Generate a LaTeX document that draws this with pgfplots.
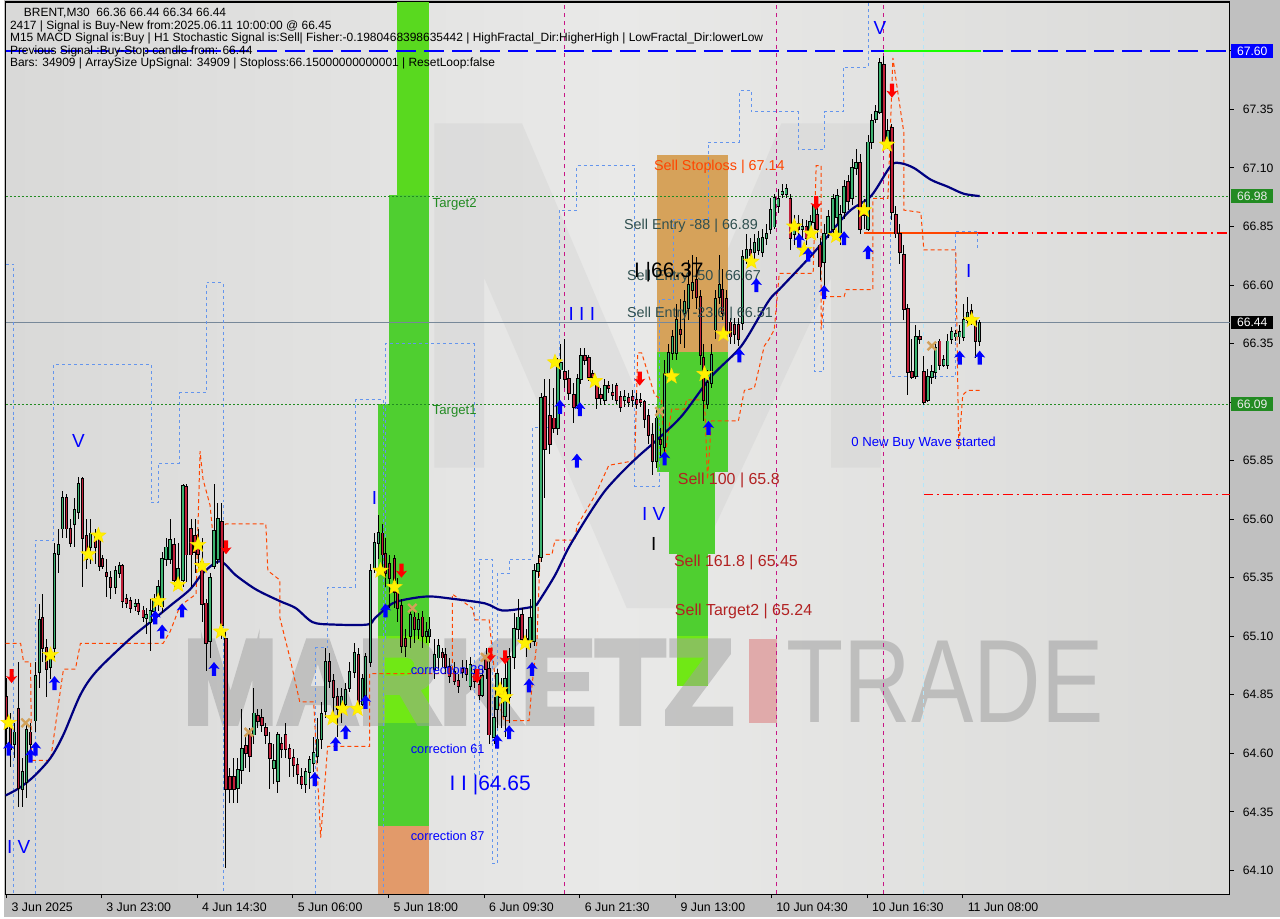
\documentclass[border=0pt]{standalone}
\usepackage{fontspec}
\setmainfont{Liberation Sans}
\newfontfamily\wmfont{Liberation Sans}[FakeBold=5]
\usepackage{pgfplots}
\usepackage{pgfplotstable}
\pgfplotsset{compat=1.18}
\definecolor{outer}{HTML}{C0C0C0}
\definecolor{bgl}{HTML}{D9D9D8}
\definecolor{bgm}{HTML}{E9E9E8}
\definecolor{bgr}{HTML}{DADAD8}
\definecolor{gtop}{HTML}{59D91F}
\definecolor{gmain}{HTML}{4FCF30}
\definecolor{glime}{HTML}{70E815}
\definecolor{orb}{HTML}{E29A6A}
\definecolor{tanr}{HTML}{D6A25A}
\definecolor{pinkr}{HTML}{E0AAAA}
\definecolor{bull}{HTML}{3CB371}
\definecolor{bear}{HTML}{C0203A}
\definecolor{navy}{HTML}{000080}
\definecolor{fgreen}{HTML}{228B22}
\definecolor{lgray}{HTML}{778899}
\definecolor{mviolet}{HTML}{C71585}
\definecolor{sellred}{HTML}{B22222}
\definecolor{slate}{HTML}{2F4F4F}
\definecolor{xtan}{HTML}{D2A05A}
\definecolor{wm}{HTML}{A0A0A0}
\definecolor{mlogo}{HTML}{C8C8C8}
\definecolor{cfblue}{HTML}{6495ED}
\definecolor{ored}{HTML}{FF4500}
\definecolor{pred}{HTML}{FF0000}
\newcommand{\fs}[1]{\fontsize{#1}{#1}\selectfont}
\pgfdeclareplotmark{fstar}{%
  \pgfpathmoveto{\pgfpointpolar{90}{\pgfplotmarksize}}%
  \pgfpathlineto{\pgfpointpolar{126}{0.42\pgfplotmarksize}}%
  \pgfpathlineto{\pgfpointpolar{162}{\pgfplotmarksize}}%
  \pgfpathlineto{\pgfpointpolar{198}{0.42\pgfplotmarksize}}%
  \pgfpathlineto{\pgfpointpolar{234}{\pgfplotmarksize}}%
  \pgfpathlineto{\pgfpointpolar{270}{0.42\pgfplotmarksize}}%
  \pgfpathlineto{\pgfpointpolar{306}{\pgfplotmarksize}}%
  \pgfpathlineto{\pgfpointpolar{342}{0.42\pgfplotmarksize}}%
  \pgfpathlineto{\pgfpointpolar{18}{\pgfplotmarksize}}%
  \pgfpathlineto{\pgfpointpolar{54}{0.42\pgfplotmarksize}}%
  \pgfpathclose\pgfusepathqfillstroke}
\pgfdeclareplotmark{uarr}{%
  \pgfpathmoveto{\pgfqpoint{0pt}{\pgfplotmarksize}}%
  \pgfpathlineto{\pgfqpoint{0.8\pgfplotmarksize}{0pt}}%
  \pgfpathlineto{\pgfqpoint{0.3\pgfplotmarksize}{0.15\pgfplotmarksize}}%
  \pgfpathlineto{\pgfqpoint{0.3\pgfplotmarksize}{-\pgfplotmarksize}}%
  \pgfpathlineto{\pgfqpoint{-0.3\pgfplotmarksize}{-\pgfplotmarksize}}%
  \pgfpathlineto{\pgfqpoint{-0.3\pgfplotmarksize}{0.15\pgfplotmarksize}}%
  \pgfpathlineto{\pgfqpoint{-0.8\pgfplotmarksize}{0pt}}%
  \pgfpathclose\pgfusepathqfill}
\pgfdeclareplotmark{darr}{%
  \pgfpathmoveto{\pgfqpoint{0pt}{-\pgfplotmarksize}}%
  \pgfpathlineto{\pgfqpoint{0.8\pgfplotmarksize}{0pt}}%
  \pgfpathlineto{\pgfqpoint{0.3\pgfplotmarksize}{-0.15\pgfplotmarksize}}%
  \pgfpathlineto{\pgfqpoint{0.3\pgfplotmarksize}{\pgfplotmarksize}}%
  \pgfpathlineto{\pgfqpoint{-0.3\pgfplotmarksize}{\pgfplotmarksize}}%
  \pgfpathlineto{\pgfqpoint{-0.3\pgfplotmarksize}{-0.15\pgfplotmarksize}}%
  \pgfpathlineto{\pgfqpoint{-0.8\pgfplotmarksize}{0pt}}%
  \pgfpathclose\pgfusepathqfill}

\pgfplotstableread{
x o h l c
3 64.84 64.92 64.64 64.71
7 64.71 64.77 64.54 64.62
11 64.64 64.73 64.58 64.69
15 64.79 64.99 64.37 64.45
19 64.45 64.58 64.37 64.52
23 64.48 64.72 64.41 64.70
27 64.69 64.73 64.58 64.64
32 64.74 64.99 64.69 64.93
36 64.95 65.24 64.88 65.17
39 65.18 65.28 64.99 65.05
43 65.05 65.09 64.84 64.96
47 64.97 65.05 64.92 65.01
51 65.05 65.50 65.01 65.45
55 65.45 65.56 65.37 65.49
59 65.56 65.72 65.52 65.69
63 65.69 65.71 65.52 65.56
67 65.56 65.60 65.48 65.50
71 65.58 65.69 65.48 65.64
75 65.63 65.78 65.60 65.75
79 65.77 65.78 65.31 65.52
83 65.53 65.60 65.39 65.43
87 65.48 65.60 65.41 65.54
92 65.54 65.56 65.41 65.48
96 65.52 65.54 65.38 65.40
99 65.43 65.45 65.39 65.40
103 65.37 65.43 65.27 65.36
107 65.35 65.38 65.26 65.31
112 65.31 65.40 65.28 65.38
116 65.37 65.42 65.35 65.40
119 65.40 65.41 65.22 65.25
123 65.26 65.28 65.22 65.24
127 65.25 65.27 65.20 65.22
132 65.23 65.26 65.21 65.24
135 65.24 65.26 65.19 65.21
140 65.21 65.23 65.16 65.18
143 65.18 65.22 65.11 65.19
147 65.16 65.26 65.04 65.21
151 65.21 65.28 65.18 65.26
155 65.24 65.34 65.21 65.31
159 65.23 65.46 65.20 65.43
163 65.43 65.52 65.40 65.48
167 65.43 65.60 65.41 65.51
171 65.49 65.52 65.31 65.34
175 65.34 65.50 65.31 65.39
180 65.34 65.75 65.31 65.74
183 65.74 65.75 65.33 65.45
188 65.56 65.60 65.31 65.45
192 65.53 65.60 65.37 65.46
195 65.49 65.56 65.39 65.45
199 65.42 65.52 65.16 65.24
203 65.24 65.26 64.95 65.07
207 65.08 65.37 65.01 65.35
211 65.40 65.75 65.39 65.55
215 65.43 65.67 65.41 65.60
219 65.59 65.67 65.09 65.15
223 65.09 65.13 64.11 64.45
227 64.50 64.54 64.39 64.45
231 64.50 64.58 64.39 64.45
235 64.45 64.58 64.39 64.53
239 64.53 64.79 64.47 64.62
243 64.63 64.67 64.54 64.60
247 64.68 64.71 64.52 64.59
251 64.68 64.88 64.64 64.77
255 64.76 64.79 64.71 64.74
259 64.75 64.79 64.69 64.72
263 64.71 64.73 64.64 64.68
267 64.64 64.69 64.45 64.58
271 64.54 64.64 64.47 64.57
275 64.48 64.69 64.43 64.68
279 64.64 64.67 64.58 64.62
283 64.68 64.73 64.58 64.62
287 64.62 64.64 64.50 64.58
291 64.58 64.62 64.50 64.55
295 64.55 64.58 64.47 64.51
299 64.50 64.54 64.45 64.47
303 64.47 64.54 64.43 64.52
307 64.52 64.59 64.45 64.57
311 64.56 64.67 64.52 64.60
315 64.59 64.75 64.56 64.66
319 64.66 64.82 64.62 64.77
323 64.78 65.05 64.75 64.99
327 64.99 65.03 64.88 64.91
331 64.91 64.94 64.75 64.84
335 64.84 64.88 64.67 64.79
339 64.79 64.88 64.73 64.84
343 64.81 64.90 64.79 64.87
347 64.88 64.99 64.86 64.95
352 64.95 65.07 64.92 65.03
356 65.02 65.05 64.79 64.80
360 64.81 64.94 64.79 64.92
363 64.81 65.03 64.79 65.01
368 64.99 65.41 64.97 65.38
372 65.39 65.54 65.37 65.50
376 65.50 65.62 65.43 65.54
380 65.54 65.58 65.37 65.45
383 65.45 65.52 65.31 65.37
387 65.41 65.45 65.22 65.35
392 65.43 65.45 65.22 65.29
395 65.29 65.35 65.16 65.22
399 65.23 65.26 65.03 65.06
403 65.09 65.13 65.01 65.06
408 65.10 65.22 65.05 65.19
412 65.18 65.21 65.07 65.13
416 65.13 65.20 65.09 65.17
420 65.18 65.21 65.05 65.10
424 65.10 65.16 65.07 65.12
427 65.10 65.18 65.07 65.13
432 64.96 65.09 64.92 65.02
436 65.01 65.09 64.96 65.06
440 65.03 65.05 64.97 65.01
443 65.02 65.05 64.94 64.97
447 64.97 65.01 64.90 64.93
452 64.95 64.99 64.89 64.91
456 64.91 64.94 64.86 64.89
460 64.96 65.00 64.92 64.95
464 64.96 65.00 64.91 64.94
468 64.89 65.01 64.87 64.98
472 64.94 64.96 64.88 64.91
477 64.89 64.92 64.83 64.85
480 64.85 64.96 64.84 64.93
484 65.01 65.05 64.92 64.96
487 64.96 65.01 64.64 64.68
492 64.67 64.84 64.64 64.75
495 64.79 64.96 64.71 64.94
499 64.88 64.92 64.71 64.84
503 64.76 65.01 64.67 64.92
507 64.84 65.05 64.73 65.01
512 65.01 65.20 64.96 65.13
516 65.13 65.26 65.09 65.18
520 65.19 65.22 65.05 65.09
524 65.09 65.13 65.01 65.07
528 65.08 65.26 65.05 65.18
532 65.08 65.41 65.06 65.38
536 65.38 65.45 65.35 65.41
539 65.44 66.14 65.42 66.12
543 66.12 66.20 65.69 65.90
548 66.04 66.20 65.88 65.92
552 66.03 66.16 65.97 65.99
556 65.99 66.29 65.96 66.26
559 66.24 66.35 66.20 66.27
563 66.23 66.37 66.16 66.20
567 66.20 66.24 66.11 66.14
572 66.13 66.18 66.01 66.08
576 66.09 66.22 66.07 66.20
579 66.20 66.33 66.18 66.30
583 66.30 66.33 66.26 66.28
587 66.29 66.30 66.19 66.21
591 66.22 66.24 66.19 66.21
595 66.17 66.20 66.07 66.12
599 66.13 66.16 66.09 66.12
603 66.11 66.20 66.09 66.17
607 66.17 66.19 66.14 66.16
611 66.14 66.18 66.11 66.13
615 66.17 66.18 66.09 66.11
619 66.12 66.15 66.06 66.08
623 66.11 66.15 66.08 66.12
627 66.12 66.14 66.08 66.10
631 66.12 66.15 66.08 66.11
635 66.11 66.14 66.07 66.09
639 66.11 66.14 66.08 66.10
643 66.10 66.11 65.99 66.03
647 66.04 66.07 65.92 65.96
651 65.96 66.01 65.79 65.85
655 65.85 66.07 65.82 66.03
659 65.94 65.99 65.87 65.92
663 65.91 66.28 65.88 66.22
667 66.22 66.35 66.20 66.31
671 66.31 66.41 66.28 66.38
675 66.31 66.52 66.28 66.45
679 66.41 66.54 66.35 66.39
683 66.48 66.58 66.33 66.53
687 66.50 66.71 66.45 66.60
691 66.58 66.73 66.54 66.61
695 66.62 66.72 66.50 66.55
699 66.55 66.58 66.26 66.30
702 66.29 66.35 66.02 66.11
706 66.09 66.24 66.07 66.18
710 66.18 66.35 66.16 66.30
714 66.41 66.58 66.37 66.54
718 66.55 66.73 66.52 66.60
721 66.58 66.67 66.45 66.48
725 66.54 66.58 66.37 66.40
729 66.44 66.46 66.35 66.38
733 66.43 66.46 66.35 66.39
737 66.43 66.46 66.34 66.37
741 66.44 66.75 66.41 66.72
745 66.71 66.82 66.69 66.75
749 66.75 66.80 66.70 66.73
753 66.74 66.82 66.71 66.78
757 66.75 66.83 66.73 66.80
761 66.74 66.84 66.72 66.80
765 66.80 66.86 66.77 66.82
769 66.84 66.97 66.82 66.92
773 66.85 66.99 66.84 66.97
777 66.94 67.01 66.91 66.97
781 66.99 67.03 66.97 67.00
785 66.99 67.03 66.97 67.01
789 66.97 66.99 66.75 66.80
793 66.82 66.90 66.77 66.87
797 66.86 66.90 66.80 66.84
801 66.84 66.88 66.80 66.85
805 66.85 66.88 66.77 66.80
809 66.83 66.90 66.80 66.87
813 66.87 66.97 66.84 66.94
816 66.90 66.94 66.80 66.84
819 66.77 66.80 66.62 66.68
823 66.70 66.86 66.58 66.82
827 66.82 66.92 66.80 66.89
832 66.84 66.99 66.80 66.97
836 66.89 67.01 66.86 66.98
839 66.82 66.94 66.77 66.90
843 66.91 67.05 66.88 67.02
847 67.04 67.07 66.92 66.96
851 66.97 67.14 66.94 67.10
855 67.10 67.18 67.07 67.12
859 67.12 67.16 66.82 66.84
863 66.92 66.97 66.84 66.90
867 66.84 67.24 66.83 67.21
871 67.21 67.33 67.18 67.30
875 67.31 67.37 67.29 67.34
879 67.34 67.57 67.33 67.55
883 67.54 67.58 67.18 67.21
887 67.21 67.31 67.18 67.26
891 67.27 67.29 66.88 66.91
895 66.90 66.94 66.80 66.82
899 66.82 66.86 66.69 66.74
903 66.73 66.77 66.45 66.50
907 66.50 66.52 66.13 66.23
911 66.23 66.37 66.20 66.21
915 66.21 66.43 66.20 66.38
919 66.38 66.41 66.35 66.37
923 66.23 66.30 66.09 66.10
927 66.11 66.24 66.10 66.21
931 66.21 66.26 66.18 66.23
935 66.23 66.35 66.20 66.33
939 66.36 66.37 66.24 66.26
943 66.26 66.30 66.25 66.28
947 66.26 66.39 66.24 66.36
951 66.37 66.42 66.35 66.40
955 66.38 66.41 66.36 66.39
959 66.38 66.43 66.35 66.40
963 66.38 66.52 66.36 66.45
967 66.45 66.55 66.43 66.48
971 66.49 66.52 66.43 66.45
975 66.45 66.46 66.29 66.36
979 66.36 66.45 66.34 66.44
}\candles

\begin{document}
\begin{tikzpicture}
\fill[outer] (0pt,0pt) rectangle (640pt,460pt);
\begin{axis}[at={(1pt,459pt)}, anchor=north west,
  width=614pt, height=447.5pt, scale only axis,
  xmin=2, xmax=1230, ymin=63.998, ymax=67.809,
  clip=false,
  axis background/.style={left color=bgl, right color=bgr, middle color=bgm},
  axis line style={black, line width=0.6pt},
  tick align=outside, major tick length=2pt,
  tick style={black, line width=0.5pt},
  xtick pos=bottom, ytick pos=right, yticklabel pos=right,
  xtick={3,98,194,290,386,482,578,674,770,866,962},
  xticklabels={3 Jun 2025,3 Jun 23:00,4 Jun 14:30,5 Jun 06:00,5 Jun 18:00,6 Jun 09:30,6 Jun 21:30,9 Jun 13:00,10 Jun 04:30,10 Jun 16:30,11 Jun 08:00},
  xticklabel style={anchor=north west, xshift=-1pt, yshift=1pt, font=\fs{6.2}},
  ytick={64.10,64.35,64.60,64.85,65.10,65.35,65.60,65.85,66.10,66.35,66.60,66.85,67.10,67.35,67.60},
  yticklabels={64.10,64.35,64.60,64.85,65.10,65.35,65.60,65.85,,66.35,66.60,66.85,67.10,67.35,},
  yticklabel style={anchor=west, xshift=1pt, font=\fs{6.1}},
]
% faint logo
\addplot[fill=mlogo, draw=none, fill opacity=0.28] coordinates {(432,65.82) (432,67.29) (520,67.29) (650,65.99) (780,67.29) (880,67.29) (880,65.82) (830,65.82) (830,66.63) (675,65.22) (625,65.22) (482,66.63) (482,65.82)} -- cycle;
% rectangles
\addplot[fill=gtop, draw=none] coordinates {(395,67.809) (427,67.809) (427,66.983) (395,66.983)} -- cycle;
\addplot[fill=gmain, draw=none] coordinates {(387,66.983) (427,66.983) (427,66.09) (387,66.09)} -- cycle;
\addplot[fill=gmain, draw=none] coordinates {(375,66.09) (427,66.09) (427,65.10) (375,65.10)} -- cycle;
\addplot[fill=glime, draw=none] coordinates {(375,65.10) (427,65.10) (427,64.73) (375,64.73)} -- cycle;
\addplot[fill=gmain, draw=none] coordinates {(375,64.73) (427,64.73) (427,64.29) (375,64.29)} -- cycle;
\addplot[fill=orb, draw=none] coordinates {(375,64.29) (427,64.29) (427,63.998) (375,63.998)} -- cycle;
\addplot[fill=tanr, draw=none] coordinates {(655,67.157) (727,67.157) (727,66.314) (655,66.314)} -- cycle;
\addplot[fill=gmain, draw=none] coordinates {(655,66.314) (727,66.314) (727,65.80) (655,65.80)} -- cycle;
\addplot[fill=gmain, draw=none] coordinates {(667,65.80) (714,65.80) (714,65.45) (667,65.45)} -- cycle;
\addplot[fill=gmain, draw=none] coordinates {(675,65.45) (707,65.45) (707,65.10) (675,65.10)} -- cycle;
\addplot[fill=glime, draw=none] coordinates {(675,65.10) (707,65.10) (707,64.887) (675,64.887)} -- cycle;
\addplot[fill=pinkr, draw=none] coordinates {(748,65.09) (776,65.09) (776,64.73) (748,64.73)} -- cycle;
% watermark
\begin{scope}[transparency group, opacity=0.5]
\node[anchor=base west, text=wm, inner sep=0pt, xscale=0.95] at (axis cs:180,64.73) {\wmfont\fs{59.4}\bfseries MARKETZ};
\end{scope}
\node[anchor=base west, text=wm, opacity=0.55, inner sep=0pt, xscale=0.79] at (axis cs:785,64.73) {\fs{59.4}TRADE};
% horizontal lines
\addplot[fgreen, line width=0.5pt, dash pattern=on 1pt off 1pt] coordinates {(2,66.98) (1230,66.98)};
\addplot[fgreen, line width=0.5pt, dash pattern=on 1pt off 1pt] coordinates {(2,66.09) (1230,66.09)};
\addplot[lgray, line width=0.6pt] coordinates {(2,66.44) (1230,66.44)};
\addplot[blue, line width=0.7pt, dash pattern=on 10pt off 4pt] coordinates {(2,67.60) (1230,67.60)};
\addplot[green!90!yellow, line width=0.8pt] coordinates {(883,67.60) (980,67.60)};
\addplot[ored, line width=0.8pt] coordinates {(863,66.822) (977,66.822)};
\addplot[pred, line width=0.8pt, dash pattern=on 5pt off 2pt on 1pt off 2pt] coordinates {(977,66.822) (1230,66.822)};
\addplot[pred, line width=0.7pt, dash pattern=on 5pt off 2pt on 1pt off 2pt] coordinates {(922,65.705) (1230,65.705)};
% vertical lines
\addplot[mviolet, line width=0.5pt, dash pattern=on 2pt off 2pt] coordinates {(563,63.998) (563,67.809)};
\addplot[mviolet, line width=0.5pt, dash pattern=on 2pt off 2pt] coordinates {(775,63.998) (775,67.809)};
\addplot[mviolet, line width=0.5pt, dash pattern=on 2pt off 2pt] coordinates {(883,63.998) (883,67.809)};
\addplot[cyan!30!white, line width=0.5pt, dash pattern=on 2pt off 2pt] coordinates {(923,63.998) (923,67.809)};
% fractal channel lines
\addplot[cfblue, line width=0.45pt, dash pattern=on 1.5pt off 1.5pt] coordinates {(2,66.69) (10,66.69) (10,63.998)};
\addplot[cfblue, line width=0.45pt, dash pattern=on 1.5pt off 1.5pt] coordinates {(32,63.998) (32,65.51) (50,65.51) (50,66.26) (148,66.26) (148,65.67) (155,65.67) (155,65.84) (176,65.84) (176,66.14) (203,66.14) (203,66.61) (220,66.61) (220,63.998)};
\addplot[cfblue, line width=0.45pt, dash pattern=on 1.5pt off 1.5pt] coordinates {(313,63.998) (313,65.05) (325,65.05) (325,65.31) (353,65.31) (353,66.11) (381,66.11) (381,63.998)};
\addplot[cfblue, line width=0.45pt, dash pattern=on 1.5pt off 1.5pt] coordinates {(383,65.09) (383,66.35) (472,66.35) (472,64.51) (477,64.51) (477,65.43) (490,65.43) (490,64.13) (495,64.13) (495,65.37) (507,65.37) (507,65.43) (530,65.43) (530,65.99) (557,65.99) (557,66.92) (575,66.92) (575,67.11) (633,67.11) (633,65.74) (658,65.74) (658,66.54) (672,66.54) (672,66.88) (707,66.88) (707,67.21) (738,67.21) (738,67.43) (750,67.43) (750,67.34) (797,67.34) (797,67.18) (823,67.18) (823,67.34) (842,67.34) (842,67.53) (867,67.53) (867,67.809)};
\addplot[cfblue, line width=0.45pt, dash pattern=on 1.5pt off 1.5pt] coordinates {(890,67.05) (890,66.21) (955,66.21) (955,66.83) (977,66.83) (977,66.75)};
\addplot[cfblue, line width=0.45pt, dash pattern=on 1.5pt off 1.5pt] coordinates {(813,66.62) (813,66.23) (822,66.23) (822,66.54)};
% stop line
\addplot[ored, line width=0.5pt, dash pattern=on 2pt off 1.5pt] coordinates {
(2,65.07) (17,65.07) (20,64.99) (27,64.99) (28,64.57) (47,64.57) (60,64.96) (72,64.96) (77,65.07) (160,65.07) (167,65.12) (177,65.23) (193,65.28) (197,65.89) (200,65.77) (207,65.66) (210,65.53) (223,65.58) (263,65.58) (265,65.38) (277,65.34) (277,65.18) (287,65.01) (297,64.82) (311,64.82) (318,64.24) (325,64.63) (367,64.63) (367,64.94) (450,64.94) (450,65.28) (470,65.22) (473,65.17) (487,65.17) (490,65.04) (495,64.84) (502,64.74) (527,64.74) (530,64.89) (535,65.08) (538,65.45) (550,65.45) (553,65.51) (573,65.51) (575,65.57) (593,65.70) (607,65.83) (633,65.85) (636,66.31) (640,66.31) (653,66.13) (660,66.11) (663,65.86) (670,66.07) (683,66.07) (685,66.11) (703,66.11) (706,65.77) (710,66.02) (737,66.02) (743,66.15) (753,66.16) (763,66.34) (768,66.37) (773,66.41) (778,66.65) (812,66.65) (815,67.11) (820,67.11) (820,66.41) (823,66.55) (843,66.55) (845,66.58) (872,66.58) (872,66.97) (887,66.97) (892,67.57) (897,67.42) (903,67.25) (903,66.92) (920,66.91) (923,66.75) (955,66.75) (958,65.90) (962,66.13) (967,66.15) (979,66.15)};
% moving average
\addplot[navy, line width=1.1pt, smooth] coordinates {
(2,64.42) (15,64.45) (30,64.50) (47,64.58) (60,64.68) (77,64.85) (93,64.95) (127,65.09) (147,65.16) (167,65.23) (187,65.30) (200,65.37) (217,65.42) (233,65.36) (253,65.30) (277,65.25) (293,65.22) (310,65.16) (330,65.15) (365,65.15) (373,65.18) (390,65.24) (407,65.26) (427,65.27) (450,65.26) (483,65.24) (500,65.21) (523,65.22) (533,65.23) (537,65.25) (553,65.36) (567,65.48) (587,65.62) (603,65.72) (620,65.80) (637,65.87) (653,65.93) (680,66.04) (710,66.21) (740,66.34) (767,66.53) (780,66.59) (813,66.74) (847,66.91) (870,66.98) (890,67.11) (900,67.12) (913,67.10) (930,67.05) (947,67.02) (963,66.99) (979,66.98)};
% candles
\addplot[draw=none, mark=none, forget plot, error bars/.cd, y dir=both, y explicit, error mark=none,
  error bar style={draw=black, line width=0.5pt}]
  table[x=x, y expr={(\thisrow{h}+\thisrow{l})/2}, y error expr={(\thisrow{h}-\thisrow{l})/2}] {\candles};
\addplot[draw=none, mark=none, forget plot, error bars/.cd, y dir=both, y explicit, error mark=none,
  error bar style={draw=black, line width=1.7pt}]
  table[x=x, y expr={(\thisrow{o}+\thisrow{c})/2}, y error expr={abs(\thisrow{c}-\thisrow{o})/2+0.004}] {\candles};
\addplot[draw=none, mark=none, forget plot, error bars/.cd, y dir=both, y explicit, error mark=none,
  error bar style={draw=bull, line width=0.8pt}]
  table[x=x, y expr={\thisrow{c}>=\thisrow{o} ? (\thisrow{o}+\thisrow{c})/2 : nan}, y error expr={abs(\thisrow{c}-\thisrow{o})/2}] {\candles};
\addplot[draw=none, mark=none, forget plot, error bars/.cd, y dir=both, y explicit, error mark=none,
  error bar style={draw=bear, line width=0.8pt}]
  table[x=x, y expr={\thisrow{c}<\thisrow{o} ? (\thisrow{o}+\thisrow{c})/2 : nan}, y error expr={abs(\thisrow{c}-\thisrow{o})/2}] {\candles};
% markers
\addplot[only marks, mark=fstar, mark size=4pt, mark options={fill=yellow, draw=yellow!85!orange, line width=0.3pt}] coordinates {
(5,64.73) (47,65.02) (85,65.45) (95,65.53) (155,65.25) (175,65.32) (195,65.49) (199,65.40) (218,65.12) (330,64.75) (340,64.79) (355,64.79) (378,65.38) (392,65.31) (498,64.87) (503,64.84) (523,65.07) (553,66.27) (593,66.19) (670,66.21) (703,66.22) (722,66.39) (750,66.70) (793,66.85) (803,66.75) (810,66.82) (835,66.81) (863,66.92) (886,67.20) (971,66.45)};
\addplot[only marks, mark=uarr, mark size=3.5pt, mark options={fill=blue, draw=none}] coordinates {
(5,64.62) (27,64.59) (32,64.62) (51,64.90) (152,65.18) (159,65.12) (179,65.21) (211,64.96) (312,64.49) (333,64.64) (343,64.69) (363,64.82) (383,65.21) (495,64.65) (507,64.69) (527,64.89) (530,64.96) (558,66.08) (578,66.07) (575,65.85) (663,65.86) (707,65.99) (738,66.30) (755,66.60) (798,66.79) (807,66.73) (823,66.57) (843,66.80) (867,66.74) (959,66.29) (979,66.29)};
\addplot[only marks, mark=darr, mark size=3.5pt, mark options={fill=red, draw=none}] coordinates {
(8,64.93) (223,65.48) (399,65.38) (475,64.93) (488,65.02) (503,65.01) (638,66.20) (815,66.95) (891,67.43)};
\addplot[only marks, mark=x, mark size=3pt, mark options={draw=xtan, line width=1.2pt}] coordinates {
(22,64.73) (246,64.69) (410,65.22) (483,65.01) (658,66.06) (931,66.34)};
% labels
\node[blue, font=\fs{9.5}] at (axis cs:75,65.935) {V};
\node[blue, font=\fs{9.5}] at (axis cs:372,65.69) {I};
\node[blue, font=\fs{9.5}] at (axis cs:580,66.476) {I I I};
\node[blue, font=\fs{9.5}] at (axis cs:652,65.624) {I V};
\node[black, font=\fs{9.5}] at (axis cs:652,65.496) {I};
\node[blue, font=\fs{10.5}] at (axis cs:488,64.466) {I I |64.65};
\node[blue, font=\fs{9.5}] at (axis cs:879,67.70) {V};
\node[blue, font=\fs{9.5}] at (axis cs:968,66.66) {I};
\node[blue, font=\fs{9.5}] at (axis cs:15,64.20) {I V};
\node[anchor=west, ored, font=\fs{7.2}, inner sep=0pt] at (axis cs:652,67.106) {Sell Stoploss | 67.14};
\node[anchor=west, slate, font=\fs{7.2}, inner sep=0pt] at (axis cs:622,66.855) {Sell Entry -88 | 66.89};
\node[anchor=west, slate, font=\fs{7.2}, inner sep=0pt] at (axis cs:625,66.633) {Sell Entry -50 | 66.67};
\node[anchor=west, slate, font=\fs{7.2}, inner sep=0pt] at (axis cs:625,66.476) {Sell Entry -23.6 | 66.51};
\node[anchor=west, black, font=\fs{10.5}, inner sep=0pt] at (axis cs:632,66.655) {I |66.37};
\node[anchor=west, sellred, font=\fs{8}, inner sep=0pt] at (axis cs:676,65.765) {Sell 100 | 65.8};
\node[anchor=west, sellred, font=\fs{8}, inner sep=0pt] at (axis cs:672,65.415) {Sell 161.8 | 65.45};
\node[anchor=west, sellred, font=\fs{8}, inner sep=0pt] at (axis cs:673,65.207) {Sell Target2 | 65.24};
\node[anchor=west, blue, font=\fs{6.6}, inner sep=0pt] at (axis cs:850,65.926) {0 New Buy Wave started};
\node[anchor=west, fgreen, font=\fs{6.6}, inner sep=0pt] at (axis cs:430,66.944) {Target2};
\node[anchor=west, fgreen, font=\fs{6.6}, inner sep=0pt] at (axis cs:430,66.059) {Target1};
\node[anchor=west, blue, font=\fs{6.4}, inner sep=0pt] at (axis cs:408,64.956) {correction 38};
\node[anchor=west, blue, font=\fs{6.4}, inner sep=0pt] at (axis cs:408,64.619) {correction 61};
\node[anchor=west, blue, font=\fs{6.4}, inner sep=0pt] at (axis cs:408,64.249) {correction 87};
% price boxes
\node[anchor=west, fill=blue, text=white, font=\fs{6.1}, inner sep=0pt, minimum width=21pt, minimum height=7pt] at (axis cs:1231,67.60) {67.60};
\node[anchor=west, fill=fgreen, text=white!85!gray, font=\fs{6.1}, inner sep=0pt, minimum width=21pt, minimum height=7pt] at (axis cs:1231,66.98) {66.98};
\node[anchor=west, fill=black, text=white, font=\fs{6.1}, inner sep=0pt, minimum width=21pt, minimum height=7pt] at (axis cs:1231,66.44) {66.44};
\node[anchor=west, fill=fgreen, text=white!85!gray, font=\fs{6.1}, inner sep=0pt, minimum width=21pt, minimum height=7pt] at (axis cs:1231,66.09) {66.09};
% header
\node[anchor=north west, align=left, font={\fontsize{6}{6.35}\selectfont}, inner sep=0pt] at (axis cs:6,67.785) {\hspace*{7pt}BRENT,M30\ \ 66.36 66.44 66.34 66.44\\
2417 | Signal is Buy-New from:2025.06.11 10:00:00 @ 66.45\\
M15 MACD Signal is:Buy | H1 Stochastic Signal is:Sell| Fisher:-0.1980468398635442 | HighFractal\_Dir:HigherHigh | LowFractal\_Dir:lowerLow\\
Previous Signal :Buy-Stop candle from: 66.44\\
Bars: 34909 | ArraySize UpSignal: 34909 | Stoploss:66.15000000000001 | ResetLoop:false};
\end{axis}
\end{tikzpicture}
\end{document}
